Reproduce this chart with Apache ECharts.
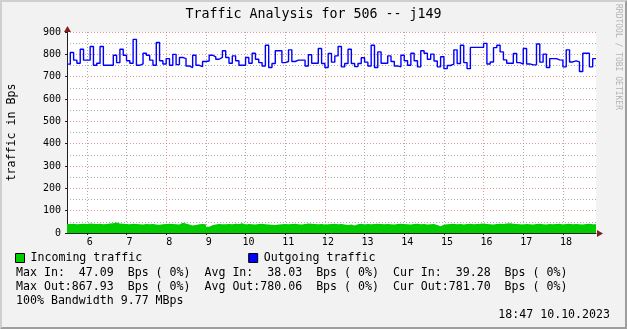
<!DOCTYPE html>
<html><head><meta charset="utf-8">
<script src="https://cdn.jsdelivr.net/npm/echarts@6/dist/echarts.min.js"></script>
<style>html,body{margin:0;padding:0;background:#F2F2F2}#c{width:627px;height:329px}</style>
</head><body><div id="c"></div><script>
const chartTitle = 'Traffic Analysis for 506 -- j149';
const yAxisTitle = 'traffic in Bps';
const hourTicks = [6, 7, 8, 9, 10, 11, 12, 13, 14, 15, 16, 17, 18];
const startHour = 5.5;
const endHour = 18 + 50 / 60;
const stepMinutes = 5;
const yMax = 900;
const yStep = 100;
const legendNames = ['Incoming traffic', 'Outgoing traffic'];
const incoming = [
  40,41,39,40,41,40,42,41,40,41,39,40,
  42,44,47,43,41,40,39,41,40,39,38,40,
  39,40,38,37,39,40,41,40,39,38,46,43,
  38,34,36,39,40,39,28,35,38,40,39,39,
  40,39,41,40,44,38,40,39,38,40,41,39,
  38,37,36,38,39,40,39,40,41,39,38,40,
  43,41,40,39,40,38,39,40,41,39,40,38,
  36,38,34,39,41,38,40,39,40,41,40,39,
  40,39,38,40,41,40,39,38,40,41,39,40,
  38,39,40,36,30,37,39,40,41,39,40,38,
  40,41,39,40,41,42,40,39,38,40,41,40,
  43,44,41,40,39,38,40,39,38,40,41,39,
  38,40,39,40,41,38,40,41,39,40,39,38,
  40,41,39,39
];
const outgoing = [
  756,808,774,760,823,774,774,835,751,760,835,751,751,751,796,763,823,796,771,760,
  867,751,757,805,796,774,751,853,771,757,781,751,800,754,786,781,748,741,796,751,
  745,768,770,796,789,778,786,816,786,760,793,771,751,751,786,760,805,778,
  763,748,841,741,759,816,816,763,768,820,768,774,774,774,748,798,760,760,826,759,
  741,804,765,793,835,744,759,823,759,745,759,785,765,748,841,741,811,760,760,793,
  768,748,744,796,771,751,805,771,744,816,805,778,801,770,744,789,736,750,
  756,820,759,841,763,736,831,831,831,831,849,757,766,830,841,811,775,760,760,804,
  763,756,826,757,753,753,846,765,801,741,781,781,775,774,744,820,766,771,766,723,
  805,805,744,781
];
const statLines = [
  'Max In:  47.09  Bps ( 0%)  Avg In:  38.03  Bps ( 0%)  Cur In:  39.28  Bps ( 0%)',
  'Max Out:867.93  Bps ( 0%)  Avg Out:780.06  Bps ( 0%)  Cur Out:781.70  Bps ( 0%)',
  '100% Bandwidth 9.77 MBps'
];
const stampText = '18:47 10.10.2023';
const watermarkText = 'RRDTOOL / TOBI OETIKER';

const MONO = '"DejaVu Sans Mono", monospace';
const stepH = stepMinutes / 60;
function toPoints(arr) {
  const pts = arr.map((v, i) => [startHour + i * stepH, v]);
  pts.push([startHour + arr.length * stepH, arr[arr.length - 1]]);
  return pts;
}
const GRID_MINOR = 'rgba(143,143,143,0.75)';
const GRID_MAJOR = 'rgba(222,79,79,0.6)';

const chart = echarts.init(document.getElementById('c'), null, {renderer: 'canvas'});
chart.setOption({
  backgroundColor: '#F2F2F2',
  animation: false,
  title: {
    text: chartTitle, left: 'center', top: 8, padding: 0,
    textStyle: {fontFamily: MONO, fontSize: 13.3, fontWeight: 'normal', color: '#000'}
  },
  legend: {
    left: 15, top: 252, padding: 0, itemWidth: 9, itemHeight: 9, itemGap: 106,
    selectedMode: false, icon: 'rect',
    textStyle: {fontFamily: MONO, fontSize: 11.6, color: '#000', padding: [0, 0, 0, 1]},
    data: [
      {name: legendNames[0], itemStyle: {color: '#00CC00', borderColor: '#000', borderWidth: 1}},
      {name: legendNames[1], itemStyle: {color: '#0000FF', borderColor: '#000', borderWidth: 1}}
    ]
  },
  grid: {left: 67, right: 31, top: 32, bottom: 96, containLabel: false, outerBoundsMode: 'none',
    show: true, backgroundColor: '#FFFFFF', borderWidth: 0},
  xAxis: {
    type: 'value', min: startHour, max: endHour, interval: 0.25,
    axisLine: {show: true, lineStyle: {color: '#1F1F1F', width: 1}},
    axisTick: {show: true, customValues: hourTicks, length: 2, lineStyle: {color: '#1F1F1F'}},
    axisLabel: {customValues: hourTicks, fontFamily: MONO, fontSize: 10, color: '#000', margin: 4,
      padding: [0, 0, 0, 6], formatter: v => String(v)},
    splitLine: {show: true, lineStyle: {color: [GRID_MINOR, GRID_MINOR, GRID_MAJOR, GRID_MINOR], type: [1, 2], width: 1}}
  },
  yAxis: {
    type: 'value', min: 0, max: yMax, interval: yStep,
    name: yAxisTitle, nameLocation: 'middle', nameRotate: 90, nameGap: 49, nameMoveOverlap: false,
    nameTextStyle: {fontFamily: MONO, fontSize: 11.6, color: '#000'},
    axisLine: {show: true, lineStyle: {color: '#1F1F1F', width: 1}},
    axisTick: {show: true, length: 2, lineStyle: {color: '#1F1F1F'}},
    axisLabel: {fontFamily: MONO, fontSize: 10, color: '#000', margin: 6},
    splitLine: {show: true, lineStyle: {color: GRID_MAJOR, type: [1, 2], width: 1}},
    minorTick: {show: false, splitNumber: 2},
    minorSplitLine: {show: true, lineStyle: {color: GRID_MINOR, type: [1, 2], width: 1}}
  },
  series: [
    {
      name: legendNames[0], type: 'line', step: 'end', data: toPoints(incoming),
      showSymbol: false, symbol: 'none', silent: true,
      itemStyle: {color: '#00CC00'},
      lineStyle: {width: 0, color: '#00CC00'},
      areaStyle: {color: '#00CC00', opacity: 1}
    },
    {
      name: legendNames[1], type: 'line', step: 'end', data: toPoints(outgoing),
      showSymbol: false, symbol: 'none', silent: true,
      itemStyle: {color: '#0000FF'},
      lineStyle: {width: 1.4, color: '#0000FF'}
    }
  ],
  graphic: [
    {type: 'polygon', silent: true, z: 100, shape: {points: [[0,0],[627,0],[625,2],[2,2],[2,327],[0,329]]}, style: {fill: '#CFCFCF'}},
    {type: 'polygon', silent: true, z: 100, shape: {points: [[627,0],[627,329],[0,329],[2,327],[625,327],[625,2]]}, style: {fill: '#9E9E9E'}},
    {type: 'polygon', silent: true, z: 100, shape: {points: [[597,230],[603,233.5],[597,237]]}, style: {fill: '#801F1F'}},
    {type: 'polygon', silent: true, z: 100, shape: {points: [[64,32],[67.5,26],[71,32]]}, style: {fill: '#801F1F'}},
    {type: 'text', silent: true, z: 100, x: 618, y: 4, rotation: -Math.PI / 2,
      style: {text: watermarkText, x: 0, y: 0, align: 'left', verticalAlign: 'middle', font: '8px ' + MONO, fill: '#B4B4B4'}},
    {type: 'text', silent: true, z: 100, style: {text: statLines[0], x: 16, y: 272.7, verticalAlign: 'middle', font: '11.6px ' + MONO, fill: '#000'}},
    {type: 'text', silent: true, z: 100, style: {text: statLines[1], x: 16, y: 287.3, verticalAlign: 'middle', font: '11.6px ' + MONO, fill: '#000'}},
    {type: 'text', silent: true, z: 100, style: {text: statLines[2], x: 16, y: 300.7, verticalAlign: 'middle', font: '11.6px ' + MONO, fill: '#000'}},
    {type: 'text', silent: true, z: 100, style: {text: stampText, x: 610, y: 315, align: 'right', verticalAlign: 'middle', font: '11.6px ' + MONO, fill: '#000'}}
  ]
});
</script></body></html>
